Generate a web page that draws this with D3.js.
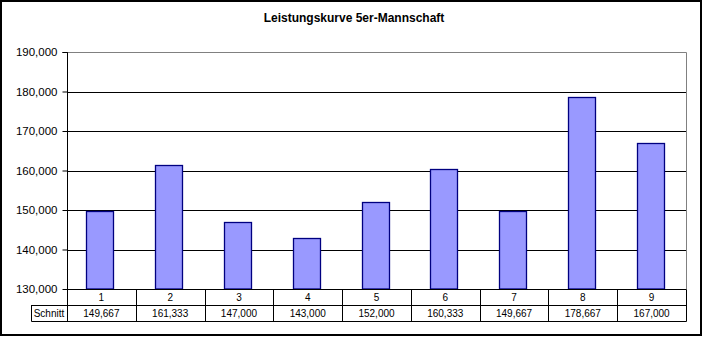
<!DOCTYPE html>
<html><head><meta charset="utf-8">
<script src="https://cdn.jsdelivr.net/npm/d3@7"></script>
<style>body{margin:0;background:#fff}svg{display:block}text{font-family:Arial,"Liberation Sans",sans-serif}</style>
</head><body><svg id="c" width="703" height="337"></svg>
<script>
const title = "Leistungskurve 5er-Mannschaft";
const categories = ["1","2","3","4","5","6","7","8","9"];
const schnitt = [149667,161333,147000,143000,152000,160333,149667,178667,167000];
const yTicks = [130000,140000,150000,160000,170000,180000,190000];
const rowLabel = "Schnitt";

const svg = d3.select("#c");
const L = 67, R = 686, T = 52, B = 289;
const rowH = 16;
const fmt = d3.format(",");

// outer frame
svg.append("rect").attr("x",1).attr("y",1).attr("width",700).attr("height",334)
  .attr("fill","#fff").attr("stroke","#000").attr("stroke-width",2);

svg.append("text").attr("x",354).attr("y",22).attr("text-anchor","middle")
  .attr("font-size",12).attr("font-weight","bold").text(title);

// category columns (shared by bars and data table)
const xc = d3.scaleBand().domain(categories).range([L,R]);
const barOffset = xc.bandwidth() * 0.283;
const barWidth = xc.bandwidth() * 0.395;
const y = d3.scaleLinear().domain([130000,190000]).range([B,T]);

// gridlines
svg.append("g").selectAll("line").data(yTicks.slice(1,-1)).join("line")
  .attr("x1",L).attr("x2",R).attr("y1",d=>Math.round(y(d))+0.5).attr("y2",d=>Math.round(y(d))+0.5)
  .attr("stroke","#000");
// plot area border (top/right)
svg.append("path").attr("d",`M${L},${T+0.5}H${R+0.5}V${B}`).attr("fill","none").attr("stroke","#808080");

// y axis
const ya = svg.append("g").attr("transform",`translate(${L+0.5},0)`)
  .call(d3.axisLeft(y).tickValues(yTicks).tickFormat(fmt).tickSize(5).tickPadding(5));
ya.selectAll("text").attr("font-size",11.5).attr("fill","#000").style("font-family","Arial,'Liberation Sans',sans-serif");
ya.selectAll("line,path").attr("stroke","#000");
ya.select(".domain").attr("d",`M-5,${y(190000)+0.5}H0V${B}`);

// bars
svg.append("g").selectAll("rect").data(schnitt).join("rect")
  .attr("x",(d,i)=>Math.round(xc(categories[i])+barOffset)+0.5)
  .attr("width",Math.round(barWidth))
  .attr("y",d=>Math.round(y(d))+0.5)
  .attr("height",d=>B-Math.round(y(d))-0.5)
  .attr("fill","#9999FF").attr("stroke","#000080").attr("stroke-width",1.3);

// data table
const tb = svg.append("g").attr("stroke","#000").attr("fill","none");
tb.append("path").attr("d",`M${L+0.5},${B+0.5}H${R+0.5}V${B+2*rowH+0.5}H31.5V${B+rowH+0.5}H${L+0.5}Z`);
tb.append("line").attr("x1",31).attr("x2",R).attr("y1",B+rowH+0.5).attr("y2",B+rowH+0.5);
tb.selectAll("line.v").data(categories).join("line")
  .attr("x1",d=>Math.round(xc(d))+0.5).attr("x2",d=>Math.round(xc(d))+0.5)
  .attr("y1",B).attr("y2",B+2*rowH);

const tt = svg.append("g").attr("font-size",10).attr("text-anchor","middle").attr("fill","#000");
tt.selectAll("text.c").data(categories).join("text")
  .attr("x",d=>xc(d)+xc.bandwidth()/2).attr("y",B+12).text(d=>d);
tt.selectAll("text.v").data(schnitt).join("text")
  .attr("x",(d,i)=>xc(categories[i])+xc.bandwidth()/2).attr("y",B+rowH+12).text(d=>fmt(d));
tt.append("text").attr("x",49).attr("y",B+rowH+12).text(rowLabel);
</script></body></html>
